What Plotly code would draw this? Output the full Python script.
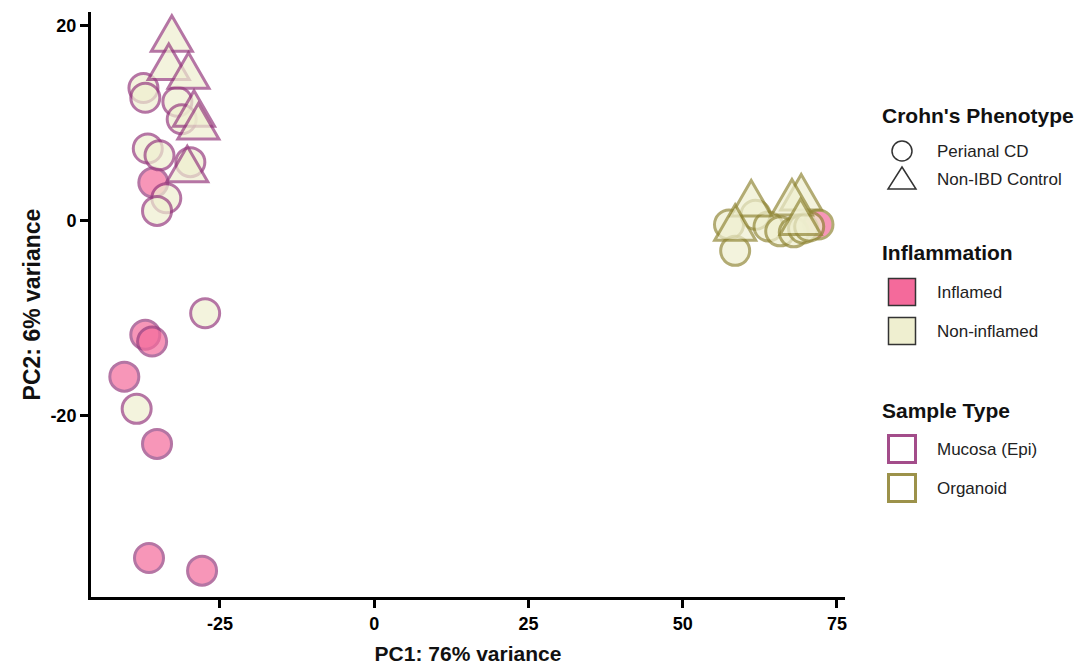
import plotly.graph_objects as go
import pandas as pd

# ---- data ----
pc1 = [-32.8, -33.3, -30.1, -29.2, -28.5, -30.3,
       -37.4, -37.1, -31.9, -31.2, -36.7, -34.8, -29.8, -33.7, -35.2, -35.8,
       -27.4, -37.1, -36.0, -40.5, -38.5, -35.2, -36.5, -27.9,
       61.1, 58.5, 69.2, 67.7, 69.1,
       57.5, 58.5, 61.8, 63.9, 65.8, 68.0, 69.5, 70.5, 72.0]
pc2 = [18.6, 15.7, 14.8, 10.9, 9.6, 5.2,
       13.6, 12.6, 12.2, 10.4, 7.4, 6.7, 6.0, 2.3, 1.0, 3.9,
       -9.5, -11.7, -12.4, -16.0, -19.3, -22.9, -34.6, -35.9,
       1.7, -0.8, 2.3, 1.8, -0.2,
       -0.4, -3.1, 0.6, -0.6, -1.1, -1.2, -0.8, -0.6, -0.4]
phenotype = (["Non-IBD Control"] * 6 + ["Perianal CD"] * 18 +
             ["Non-IBD Control"] * 5 + ["Perianal CD"] * 9)
inflammation = (["Non-inflamed"] * 6 + ["Non-inflamed"] * 9 + ["Inflamed"] +
                ["Non-inflamed", "Inflamed", "Inflamed", "Inflamed", "Non-inflamed",
                 "Inflamed", "Inflamed", "Inflamed"] +
                ["Non-inflamed"] * 5 + ["Non-inflamed"] * 8 + ["Inflamed"])
sample_type = ["Mucosa (Epi)"] * 24 + ["Organoid"] * 14

x_ticks = [-25, 0, 25, 50, 75]
y_ticks = [-20, 0, 20]

# ---- styles ----
FILL = {"Inflamed": "#F46A9B", "Non-inflamed": "#EFEFD0"}
EDGE = {"Mucosa (Epi)": "#963C7E", "Organoid": "#928838"}
OPACITY = 0.7
FONT = "Liberation Sans, Arial, Helvetica, sans-serif"
CIRCLE_SIZE = 29
TRI_SIDE, TRI_H = 41, 35.5   # equilateral-looking triangle, pixels

df = pd.DataFrame(dict(pc1=pc1, pc2=pc2, phenotype=phenotype,
                       inflammation=inflammation, sample_type=sample_type))
df = df.assign(k=(df.inflammation != "Inflamed").astype(int)).sort_values("k", kind="stable")
circ = df[df.phenotype == "Perianal CD"]
tri = df[df.phenotype == "Non-IBD Control"]

fig = go.Figure()
fig.add_trace(go.Scatter(
    x=circ.pc1, y=circ.pc2, mode="markers", showlegend=False, hoverinfo="skip",
    marker=dict(
        symbol="circle", size=CIRCLE_SIZE,
        color=[FILL[i] for i in circ.inflammation],
        line=dict(color=[EDGE[s] for s in circ.sample_type], width=3),
        opacity=OPACITY,
    ),
))

shapes = []
# triangles anchored at their data positions (pixel-sized path around each anchor)
tri_path = "M %f,%f L %f,%f L %f,%f Z" % (-TRI_SIDE / 2, -TRI_H / 3, TRI_SIDE / 2, -TRI_H / 3,
                                          0, 2 * TRI_H / 3)
for _, r in tri.iterrows():
    shapes.append(dict(type="path", xref="x", yref="y", xsizemode="pixel", ysizemode="pixel",
                       xanchor=r.pc1, yanchor=r.pc2, path=tri_path, layer="above",
                       fillcolor=FILL[r.inflammation], opacity=OPACITY,
                       line=dict(color=EDGE[r.sample_type], width=3)))

# plot area in pixels
L, R, T, B = 91, 845, 12, 597
W, H = 1087, 666


def px(x):
    return (x - L) / (R - L)


def py(y):
    return (B - y) / (B - T)


annotations = []

# legend titles
for title, yy in [("Crohn's Phenotype", 115), ("Inflammation", 252), ("Sample Type", 410)]:
    annotations.append(dict(text="<b>%s</b>" % title, x=px(880), y=py(yy), xref="paper", yref="paper",
                            xanchor="left", yanchor="middle", showarrow=False,
                            font=dict(family=FONT, size=21, color="#111")))

# legend entries
entries = [
    ("Perianal CD", 151, "circle", None, "#333333"),
    ("Non-IBD Control", 179, "triangle", None, "#333333"),
    ("Inflamed", 292, "square", FILL["Inflamed"], "#333333"),
    ("Non-inflamed", 331, "square", FILL["Non-inflamed"], "#333333"),
    ("Mucosa (Epi)", 449, "square", "rgba(0,0,0,0)", "#A34D8A"),
    ("Organoid", 488, "square", "rgba(0,0,0,0)", "#9C924A"),
]
cx = 902
for label, yy, kind, fill, edge in entries:
    if kind == "circle":
        shapes.append(dict(type="circle", xref="paper", yref="paper",
                           x0=px(cx - 10), x1=px(cx + 10), y0=py(yy + 10), y1=py(yy - 10),
                           line=dict(color=edge, width=1.5)))
    elif kind == "triangle":
        path = "M %f,%f L %f,%f L %f,%f Z" % (px(cx - 14), py(yy + 10), px(cx + 14), py(yy + 10),
                                              px(cx), py(yy - 12))
        shapes.append(dict(type="path", xref="paper", yref="paper", path=path,
                           line=dict(color=edge, width=1.5)))
    else:
        lw = 1.5 if edge == "#333333" else 3
        shapes.append(dict(type="rect", xref="paper", yref="paper",
                           x0=px(cx - 13.5), x1=px(cx + 13.5), y0=py(yy + 13.5), y1=py(yy - 13.5),
                           fillcolor=fill, line=dict(color=edge, width=lw)))
    annotations.append(dict(text=label, x=px(935), y=py(yy), xref="paper", yref="paper",
                            xanchor="left", yanchor="middle", showarrow=False,
                            font=dict(family=FONT, size=17, color="#222")))

axis_common = dict(showgrid=False, zeroline=False, showline=True, linecolor="black",
                   linewidth=3, ticks="outside", ticklen=8, tickwidth=3, tickcolor="black",
                   automargin=False,
                   tickfont=dict(family=FONT, size=18, color="black"))

fig.update_layout(
    width=W, height=H,
    margin=dict(l=L, r=W - R, t=T, b=H - B),
    paper_bgcolor="white", plot_bgcolor="white",
    xaxis=dict(range=[-45.9, 76.3], tickvals=x_ticks,
               ticktext=["<b>%d</b>" % v for v in x_ticks],
               title=dict(text="<b>PC1: 76% variance</b>", standoff=14,
                          font=dict(family=FONT, size=21, color="#111")),
               **axis_common),
    yaxis=dict(range=[-38.6, 21.4], tickvals=y_ticks,
               ticktext=["<b>%d</b>" % v for v in y_ticks],
               title=dict(text="<b>PC2: 6% variance</b>", standoff=4,
                          font=dict(family=FONT, size=23, color="#111")),
               **axis_common),
    shapes=shapes, annotations=annotations,
    showlegend=False,
)

fig.write_html("out.html", config={"displayModeBar": False},
               post_script="document.body.style.margin='0px';")
